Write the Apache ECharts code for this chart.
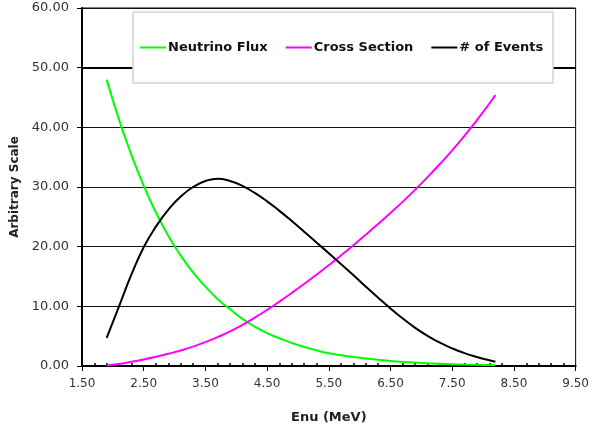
<!DOCTYPE html>
<html>
<head>
<meta charset="utf-8">
<script src="https://cdn.jsdelivr.net/npm/echarts@6/dist/echarts.min.js"></script>
<style>html,body{margin:0;padding:0;background:#fff;}#c{width:592px;height:431px;}</style>
</head>
<body>
<div id="c"></div>
<script>
const energies = [1.9,2.1,2.3,2.5,2.7,2.9,3.1,3.3,3.5,3.7,3.9,4.1,4.3,4.5,4.7,4.9,5.1,5.3,5.5,5.7,5.9,6.1,6.3,6.5,6.7,6.9,7.1,7.3,7.5,7.7,7.9,8.1,8.2];
const neutrinoFlux = [48.0,41.3,35.4,30.2,25.7,21.8,18.5,15.7,13.3,11.2,9.5,7.9,6.6,5.5,4.65,3.85,3.2,2.63,2.15,1.8,1.5,1.25,1.03,0.85,0.7,0.57,0.46,0.37,0.3,0.24,0.19,0.15,0.13];
const crossSection = [0.1,0.35,0.7,1.1,1.55,2.05,2.6,3.25,4.0,4.85,5.8,6.9,8.1,9.4,10.8,12.25,13.75,15.3,16.9,18.55,20.25,22.0,23.8,25.65,27.55,29.55,31.65,33.85,36.15,38.6,41.2,43.95,45.4];
const numEvents = [4.7,10.0,15.3,19.9,23.4,26.2,28.4,30.0,31.0,31.4,31.0,30.2,29.0,27.6,26.0,24.3,22.5,20.7,18.9,17.05,15.2,13.3,11.45,9.65,7.95,6.4,5.05,3.9,2.95,2.15,1.5,0.95,0.7];
const seriesNames = ['Neutrino Flux','Cross Section','# of Events'];
const seriesColors = ['#00ff00','#ff00ff','#000000'];

const pairs = arr => energies.map((e,i)=>[e,arr[i]]);
const chart = echarts.init(document.getElementById('c'), null, {renderer:'canvas'});
const font = 'DejaVu Sans';
chart.setOption({
  animation:false,
  backgroundColor:'#fff',
  grid:{left:82,right:13,top:8,bottom:65,show:true,borderColor:'#000',borderWidth:1,backgroundColor:'transparent'},
  graphic:{z:8,elements:[{type:'rect',z:8,shape:{x:133,y:12,width:420,height:71},style:{fill:'#fff',stroke:'#d4d4d4',lineWidth:1.5}}]},
  legend:{z:12,left:140,top:41,padding:0,itemWidth:26,itemHeight:2,itemGap:18,icon:'rect',
    data:seriesNames,
    textStyle:{fontFamily:font,fontWeight:'bold',fontSize:13,color:'#111',padding:[0,0,0,-3]}},
  xAxis:[{type:'value',min:1.5,max:9.5,interval:1,
    name:'Enu (MeV)',nameLocation:'middle',nameGap:45,
    nameTextStyle:{fontFamily:font,fontWeight:'bold',fontSize:13,color:'#222'},
    axisLine:{onZero:false,lineStyle:{color:'#000',width:2}},
    axisTick:{show:true,length:5,lineStyle:{color:'#000',width:1}},
    axisLabel:{margin:12,fontFamily:font,fontSize:12,color:'#333',formatter:v=>v.toFixed(2)},
    splitLine:{show:false}},
   {type:'value',min:1.5,max:9.5,interval:1,position:'bottom',offset:0,
    axisLine:{show:false},axisTick:{show:false,inside:true},axisLabel:{show:false},splitLine:{show:false},
    minorTick:{show:true,splitNumber:5,length:3,lineStyle:{color:'#000',width:1.5}}}],
  yAxis:{type:'value',min:0,max:60,interval:10,
    name:'Arbitrary Scale',nameLocation:'middle',nameGap:61,nameRotate:90,
    nameTextStyle:{fontFamily:font,fontWeight:'bold',fontSize:12,color:'#222'},
    axisLine:{show:true,lineStyle:{color:'#000',width:2}},
    axisTick:{show:true,length:5,lineStyle:{color:'#000',width:1}},
    axisLabel:{margin:13,fontFamily:font,fontSize:13,color:'#333',formatter:v=>v.toFixed(2)},
    splitLine:{show:true,lineStyle:{color:'#111',width:1}}},
  series:[
    {name:seriesNames[0],type:'line',smooth:true,symbol:'none',data:pairs(neutrinoFlux),
      lineStyle:{color:seriesColors[0],width:2},itemStyle:{color:seriesColors[0]}},
    {name:seriesNames[1],type:'line',smooth:true,symbol:'none',data:pairs(crossSection),
      lineStyle:{color:seriesColors[1],width:2},itemStyle:{color:seriesColors[1]}},
    {name:seriesNames[2],type:'line',smooth:true,symbol:'none',data:pairs(numEvents),
      lineStyle:{color:seriesColors[2],width:2},itemStyle:{color:seriesColors[2]},
      markLine:{z:3,silent:true,symbol:'none',label:{show:false},lineStyle:{color:'#000',width:2,type:'solid'},data:[{yAxis:50}]}}
  ]
});
</script>
</body>
</html>
